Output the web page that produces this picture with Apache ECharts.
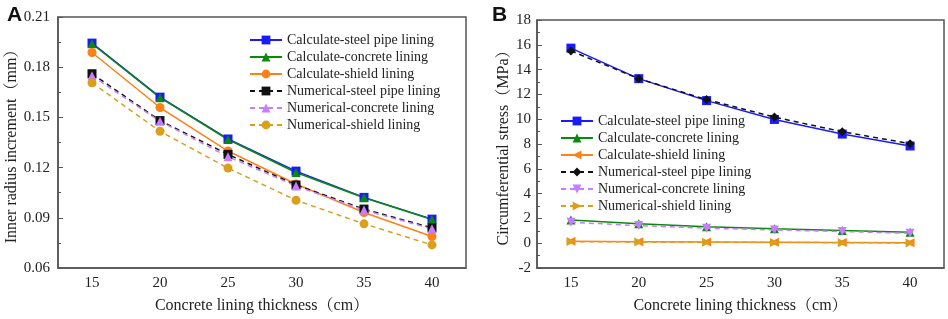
<!DOCTYPE html>
<html>
<head>
<meta charset="utf-8">
<script src="https://cdn.jsdelivr.net/npm/echarts@6/dist/echarts.min.js"></script>
<style>
  html, body { margin: 0; padding: 0; background: #fff; }
  #main { width: 948px; height: 319px; }
</style>
</head>
<body>
<div id="main"></div>
<script>
// thickness of concrete lining (cm)
var thickness = ['15', '20', '25', '30', '35', '40'];

// A: inner radius increment (mm)
var radCalcSteel = [0.1944, 0.1621, 0.1371, 0.1179, 0.1022, 0.0892];
var radCalcConcrete = [0.1940, 0.1618, 0.1368, 0.1171, 0.1020, 0.0890];
var radCalcShield = [0.1888, 0.1559, 0.1299, 0.1102, 0.0932, 0.0788];
var radNumSteel = [0.1761, 0.1481, 0.1279, 0.1096, 0.0952, 0.0840];
var radNumConcrete = [0.1749, 0.1477, 0.1265, 0.1090, 0.0946, 0.0834];
var radNumShield = [0.1707, 0.1417, 0.1197, 0.1005, 0.0864, 0.0738];

// B: circumferential stress (MPa)
var strCalcSteel = [15.73, 13.27, 11.50, 9.98, 8.80, 7.84];
var strCalcConcrete = [1.88, 1.56, 1.32, 1.16, 1.02, 0.89];
var strCalcShield = [0.15, 0.12, 0.09, 0.07, 0.05, 0.03];
var strNumSteel = [15.51, 13.27, 11.58, 10.17, 8.99, 8.03];
var strNumConcrete = [1.69, 1.42, 1.21, 1.07, 0.94, 0.80];
var strNumShield = [0.13, 0.10, 0.08, 0.06, 0.04, 0.02];

var names = [
  'Calculate-steel pipe lining',
  'Calculate-concrete lining',
  'Calculate-shield lining',
  'Numerical-steel pipe lining',
  'Numerical-concrete lining',
  'Numerical-shield lining'
];

var serif = 'Liberation Serif, "Noto Serif CJK SC", "Noto Sans CJK SC", serif';
var textColor = '#222';
var frameColor = '#555';

var chart = echarts.init(document.getElementById('main'), null, { renderer: 'canvas' });

function xAxes(gridIndex) {
  return [{
    type: 'category', gridIndex: gridIndex, data: thickness, boundaryGap: true,
    axisLine: { onZero: false, lineStyle: { color: frameColor, width: 1.5 } },
    axisTick: { inside: true, alignWithLabel: true, length: 5, lineStyle: { color: frameColor } },
    axisLabel: { margin: 8, fontFamily: serif, fontSize: 15, color: textColor },
    splitLine: { show: false },
    name: 'Concrete lining thickness（cm）', nameLocation: 'middle', nameGap: 30,
    nameTextStyle: { fontFamily: serif, fontSize: 16, color: textColor }
  }, {
    type: 'category', gridIndex: gridIndex, data: thickness, boundaryGap: true, position: 'bottom',
    axisLine: { show: false, onZero: false },
    axisTick: { inside: true, length: 3, lineStyle: { color: frameColor } },
    axisLabel: { show: false },
    splitLine: { show: false }
  }];
}

function yAxis(gridIndex, min, max, interval, name, gap, margin, digits) {
  return {
    type: 'value', gridIndex: gridIndex, min: min, max: max, interval: interval,
    axisLine: { show: true, onZero: false, lineStyle: { color: frameColor, width: 1.5 } },
    axisTick: { show: true, inside: true, length: 5, lineStyle: { color: frameColor } },
    minorTick: { show: true, splitNumber: 2, length: 3, lineStyle: { color: frameColor } },
    axisLabel: {
      margin: margin, fontFamily: serif, fontSize: 15, color: textColor,
      formatter: function (v) { return digits ? v.toFixed(digits) : String(Math.round(v)); }
    },
    splitLine: { show: false },
    name: name, nameLocation: 'middle', nameGap: gap,
    nameTextStyle: { fontFamily: serif, fontSize: 16, color: textColor }
  };
}

function line(name, data, color, symbol, dashed, idx, rotate) {
  return {
    type: 'line', name: name, data: data,
    xAxisIndex: idx * 2, yAxisIndex: idx,
    symbol: symbol, symbolSize: 9, symbolRotate: rotate || 0,
    showAllSymbol: true,
    lineStyle: { color: color, width: 1.5, type: dashed ? [5, 4] : 'solid' },
    itemStyle: { color: color },
    animation: false, z: dashed ? 3 : 2
  };
}

var blue = '#1a1aff', green = '#0a8a0a', orange = '#ff8014',
    black = '#111', violet = '#c77dff', gold = '#daa01c';

// B series get a trailing space so each legend picks its own symbols
var namesB = names.map(function (n) { return n + ' '; });

var legendBase = {
  orient: 'vertical', padding: 0,
  itemWidth: 32, itemHeight: 11, itemGap: 3,
  textStyle: { fontFamily: serif, fontSize: 14, color: textColor }
};

var option = {
  backgroundColor: '#fff',
  title: [
    { text: 'A', left: 2, top: 0, textStyle: { fontFamily: 'Liberation Sans', fontWeight: 'bold', fontSize: 21, color: '#111' } },
    { text: 'B', left: 487, top: 0, textStyle: { fontFamily: 'Liberation Sans', fontWeight: 'bold', fontSize: 21, color: '#111' } }
  ],
  grid: [
    { left: 58, top: 17, width: 408, height: 251, show: true, borderColor: frameColor, borderWidth: 1.5, containLabel: false },
    { left: 537, top: 20, width: 407, height: 250, show: true, borderColor: frameColor, borderWidth: 1.5, containLabel: false }
  ],
  legend: [
    Object.assign({}, legendBase, { data: names, left: 249, top: 33 }),
    Object.assign({}, legendBase, {
      data: namesB, left: 560, top: 114,
      formatter: function (n) { return n.trim(); }
    })
  ],
  xAxis: xAxes(0).concat(xAxes(1)),
  yAxis: [
    yAxis(0, 0.06, 0.21, 0.03, 'Inner radius increment（mm）', 29, 8, 2),
    yAxis(1, -2, 18, 2, 'Circumferential stress（MPa）', 20, 6, 0)
  ],
  series: [
    line(names[0], radCalcSteel, blue, 'rect', false, 0),
    line(names[1], radCalcConcrete, green, 'triangle', false, 0),
    line(names[2], radCalcShield, orange, 'circle', false, 0),
    line(names[3], radNumSteel, black, 'rect', true, 0),
    line(names[4], radNumConcrete, violet, 'triangle', true, 0),
    line(names[5], radNumShield, gold, 'circle', true, 0),

    line(namesB[0], strCalcSteel, blue, 'rect', false, 1),
    line(namesB[1], strCalcConcrete, green, 'triangle', false, 1),
    line(namesB[2], strCalcShield, orange, 'triangle', false, 1, 90),
    line(namesB[3], strNumSteel, black, 'diamond', true, 1),
    line(namesB[4], strNumConcrete, violet, 'triangle', true, 1, 180),
    line(namesB[5], strNumShield, gold, 'triangle', true, 1, -90)
  ]
};

chart.setOption(option);
</script>
</body>
</html>
